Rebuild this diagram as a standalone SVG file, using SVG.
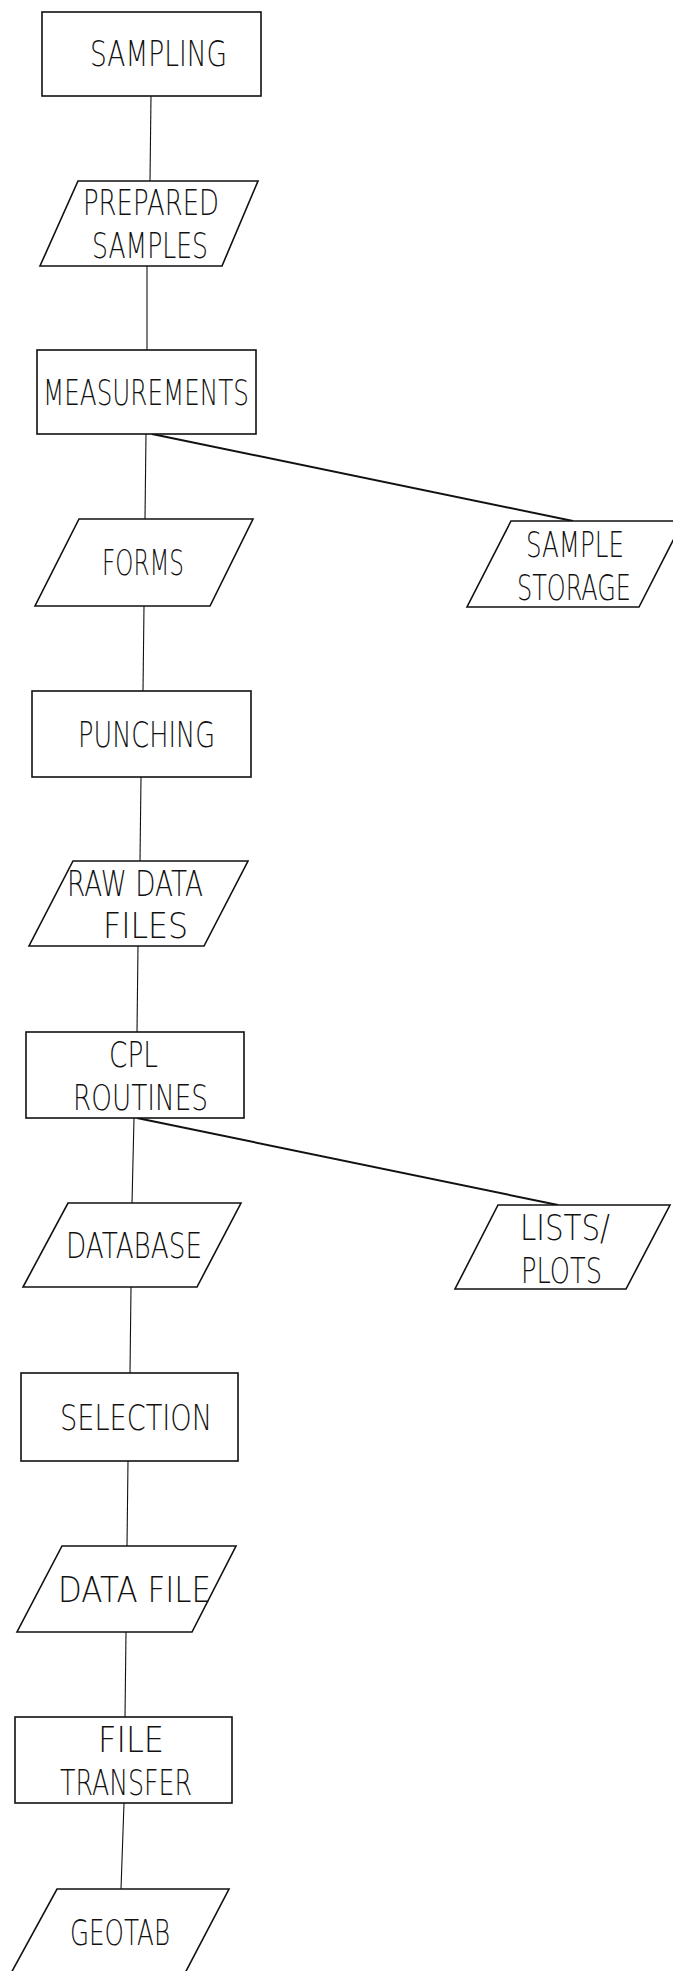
<svg xmlns="http://www.w3.org/2000/svg" width="673" height="1971" viewBox="0 0 673 1971">
  <style>
    .box { fill: #ffffff; stroke: #111111; stroke-width: 1.6; stroke-linejoin: miter; }
    .link { fill: none; stroke: #111111; stroke-width: 1.1; }
    .branch { fill: none; stroke: #111111; stroke-width: 2; }
    .lbl { font-family: "DejaVu Sans", "Liberation Sans", sans-serif; font-weight: 200; font-size: 35px; fill: #111111; }
  </style>
  <rect x="0" y="0" width="673" height="1971" fill="#ffffff"/>

  <!-- connectors -->
  <g id="connectors">
    <line class="link" x1="151" y1="96" x2="150" y2="181"/>
    <line class="link" x1="147" y1="266" x2="147" y2="350"/>
    <line class="link" x1="146" y1="434" x2="145" y2="519"/>
    <line class="branch" x1="152" y1="434" x2="573" y2="521"/>
    <line class="link" x1="144" y1="606" x2="143" y2="691"/>
    <line class="link" x1="141" y1="777" x2="140" y2="861"/>
    <line class="link" x1="138" y1="946" x2="137" y2="1032"/>
    <line class="link" x1="134" y1="1118" x2="132" y2="1203"/>
    <line class="branch" x1="137" y1="1118" x2="558" y2="1205"/>
    <line class="link" x1="131" y1="1287" x2="130" y2="1373"/>
    <line class="link" x1="128" y1="1461" x2="127" y2="1546"/>
    <line class="link" x1="126" y1="1632" x2="125" y2="1717"/>
    <line class="link" x1="124" y1="1803" x2="121" y2="1889"/>
  </g>

  <!-- process steps (rectangles) and data sets (parallelograms) -->
  <g id="sampling">
    <rect class="box" x="42" y="12" width="219" height="84"/>
    <text class="lbl" x="90" y="66" textLength="137" lengthAdjust="spacingAndGlyphs">SAMPLING</text>
  </g>

  <g id="prepared-samples">
    <polygon class="box" points="78,181 258,181 222,266 40,266"/>
    <text class="lbl" x="83" y="215" textLength="136" lengthAdjust="spacingAndGlyphs">PREPARED</text>
    <text class="lbl" x="92" y="258" textLength="116" lengthAdjust="spacingAndGlyphs">SAMPLES</text>
  </g>

  <g id="measurements">
    <rect class="box" x="37" y="350" width="219" height="84"/>
    <text class="lbl" x="43" y="405" textLength="206" lengthAdjust="spacingAndGlyphs">MEASUREMENTS</text>
  </g>

  <g id="forms">
    <polygon class="box" points="79,519 253,519 210,606 35,606"/>
    <text class="lbl" x="102" y="575" textLength="82" lengthAdjust="spacingAndGlyphs">FORMS</text>
  </g>

  <g id="sample-storage">
    <polygon class="box" points="511,521 683,521 639,607 467,607"/>
    <text class="lbl" x="526" y="557" textLength="98" lengthAdjust="spacingAndGlyphs">SAMPLE</text>
    <text class="lbl" x="517" y="600" textLength="114" lengthAdjust="spacingAndGlyphs">STORAGE</text>
  </g>

  <g id="punching">
    <rect class="box" x="32" y="691" width="219" height="86"/>
    <text class="lbl" x="78" y="747" textLength="137" lengthAdjust="spacingAndGlyphs">PUNCHING</text>
  </g>

  <g id="raw-data-files">
    <polygon class="box" points="73,861 248,861 204,946 29,946"/>
    <text class="lbl" x="67" y="896" textLength="136" lengthAdjust="spacingAndGlyphs">RAW DATA</text>
    <text class="lbl" x="103" y="938" textLength="85" lengthAdjust="spacingAndGlyphs">FILES</text>
  </g>

  <g id="cpl-routines">
    <rect class="box" x="26" y="1032" width="218" height="86"/>
    <text class="lbl" x="109" y="1067" textLength="49" lengthAdjust="spacingAndGlyphs">CPL</text>
    <text class="lbl" x="73" y="1110" textLength="135" lengthAdjust="spacingAndGlyphs">ROUTINES</text>
  </g>

  <g id="database">
    <polygon class="box" points="68,1203 241,1203 197,1287 23,1287"/>
    <text class="lbl" x="66" y="1258" textLength="136" lengthAdjust="spacingAndGlyphs">DATABASE</text>
  </g>

  <g id="lists-plots">
    <polygon class="box" points="498,1205 670,1205 626,1289 455,1289"/>
    <text class="lbl" x="520" y="1240" textLength="90" lengthAdjust="spacingAndGlyphs">LISTS/</text>
    <text class="lbl" x="521" y="1283" textLength="81" lengthAdjust="spacingAndGlyphs">PLOTS</text>
  </g>

  <g id="selection">
    <rect class="box" x="21" y="1373" width="217" height="88"/>
    <text class="lbl" x="60" y="1430" textLength="152" lengthAdjust="spacingAndGlyphs">SELECTION</text>
  </g>

  <g id="data-file">
    <polygon class="box" points="62,1546 236,1546 192,1632 17,1632"/>
    <text class="lbl" x="58" y="1602" textLength="153" lengthAdjust="spacingAndGlyphs">DATA FILE</text>
  </g>

  <g id="file-transfer">
    <rect class="box" x="15" y="1717" width="217" height="86"/>
    <text class="lbl" x="98" y="1752" textLength="66" lengthAdjust="spacingAndGlyphs">FILE</text>
    <text class="lbl" x="60" y="1795" textLength="132" lengthAdjust="spacingAndGlyphs">TRANSFER</text>
  </g>

  <g id="geotab">
    <polygon class="box" points="57,1889 229,1889 184,1975 10,1975"/>
    <text class="lbl" x="70" y="1945" textLength="100" lengthAdjust="spacingAndGlyphs">GEOTAB</text>
  </g>
</svg>
